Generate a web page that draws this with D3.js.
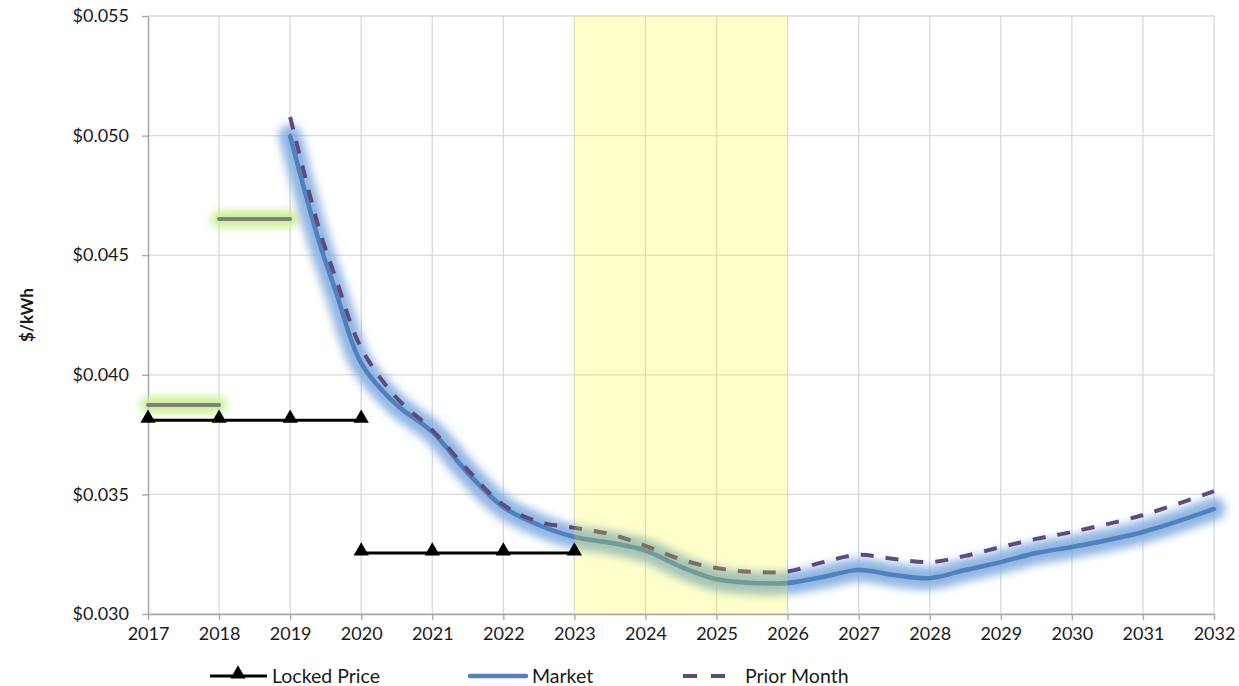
<!DOCTYPE html>
<html>
<head>
<meta charset="utf-8">
<script src="https://cdn.jsdelivr.net/npm/d3@7"></script>
<style>
  body { margin: 0; background: #fff; }
  text { font-family: Lato, "Open Sans", sans-serif; }
</style>
</head>
<body>
<script>
// data
const years = d3.range(2017, 2033);
const yTicks = [0.030, 0.035, 0.040, 0.045, 0.050, 0.055];

const lockedA = [[2017, 0.0381], [2018, 0.0381], [2019, 0.0381], [2020, 0.0381]];
const lockedB = [[2020, 0.03255], [2021, 0.03255], [2022, 0.03255], [2023, 0.03255]];

const grayA = [[2017, 0.03874], [2018, 0.03874]];
const grayB = [[2018, 0.04651], [2019, 0.04651]];

const marketX = [2019, 2019.4, 2019.65, 2020, 2020.5, 2021, 2021.5, 2022, 2022.5, 2023, 2023.5, 2024, 2024.5, 2025, 2025.5, 2026, 2026.5, 2027, 2027.5, 2028, 2028.5, 2029, 2029.5, 2030, 2031, 2032];
const marketY = [0.04998, 0.04564, 0.04342, 0.04049, 0.03874, 0.03761, 0.0359, 0.03447, 0.03372, 0.03322, 0.03298, 0.03265, 0.03197, 0.03145, 0.0313, 0.0313, 0.03155, 0.03184, 0.03163, 0.0315, 0.03184, 0.03217, 0.03255, 0.0328, 0.03343, 0.03439];

const priorX = [2019, 2019.4, 2019.65, 2020, 2020.5, 2021, 2021.5, 2022, 2022.5, 2023, 2023.5, 2024, 2024.5, 2025, 2025.5, 2026, 2026.5, 2027, 2027.5, 2028, 2028.5, 2029, 2029.5, 2030, 2031, 2032];
const priorY = [0.05078, 0.04618, 0.04396, 0.04112, 0.03903, 0.03769, 0.03602, 0.03456, 0.03385, 0.0336, 0.03334, 0.03285, 0.03228, 0.03192, 0.03176, 0.03178, 0.03217, 0.03247, 0.0323, 0.03217, 0.03243, 0.0328, 0.03314, 0.03343, 0.03414, 0.03514];

const band = [2023, 2026];

const w = 1239;
const h = 686;
const mLeft = 148, mRight = 1214, mTop = 16, mBottom = 614;

const svg = d3.select("body").append("svg").attr("width", w).attr("height", h);

const defs = svg.append("defs");
defs.append("filter").attr("id", "glow").attr("filterUnits", "userSpaceOnUse")
  .attr("x", 0).attr("y", 0).attr("width", w).attr("height", h)
  .append("feGaussianBlur").attr("stdDeviation", 4.5);

const xScale = d3.scaleLinear().domain([2017, 2032]).range([mLeft, mRight]);
const yScale = d3.scaleLinear().domain([0.030, 0.055]).range([mBottom, mTop]);

// grid
svg.append("g").selectAll("line").data(yTicks).enter().append("line")
  .attr("x1", mLeft).attr("x2", mRight)
  .attr("y1", (d) => yScale(d)).attr("y2", (d) => yScale(d))
  .attr("stroke", "#d9d9d9").attr("stroke-width", 1.3);
svg.append("g").selectAll("line").data(years.slice(1)).enter().append("line")
  .attr("x1", (d) => xScale(d)).attr("x2", (d) => xScale(d))
  .attr("y1", mTop).attr("y2", mBottom)
  .attr("stroke", "#d9d9d9").attr("stroke-width", 1.3);

// axes
const xAxis = d3.axisBottom(xScale).tickValues(years).tickFormat(d3.format("d")).tickSize(6).tickSizeOuter(0);
const gx = svg.append("g").attr("transform", "translate(0," + mBottom + ")").call(xAxis);
const yAxis = d3.axisLeft(yScale).tickValues(yTicks).tickFormat((d) => "$" + d3.format(".3f")(d)).tickSize(6).tickSizeOuter(0);
const gy = svg.append("g").attr("transform", "translate(" + mLeft + ",0)").call(yAxis);
[gx, gy].forEach((g) => {
  g.select(".domain").attr("stroke", "#a6a6a6").attr("stroke-width", 1.5);
  g.selectAll(".tick line").attr("stroke", "#a6a6a6").attr("stroke-width", 1.3);
  g.selectAll("text").attr("fill", "#1a1a1a").style("font-size", "18px").style("font-family", "Lato, sans-serif");
});
gx.selectAll("text").attr("dy", "0.95em");
gy.selectAll("text").attr("x", -19);

svg.append("text")
  .attr("transform", "translate(33," + (mTop + mBottom) / 2 + ") rotate(-90)")
  .attr("text-anchor", "middle").attr("font-weight", "bold").attr("font-size", 17).attr("fill", "#1a1a1a")
  .text("$/kWh");

const line = d3.line().x((d) => xScale(d[0])).y((d) => yScale(d[1]));
const smooth = d3.line().x((d) => xScale(d[0])).y((d) => yScale(d[1])).curve(d3.curveCatmullRom.alpha(0.5));

// gray highlight segments
[grayA, grayB].forEach((seg) => {
  svg.append("path").attr("d", line(seg)).attr("fill", "none")
    .attr("stroke", "#c9f08c").attr("stroke-width", 16).attr("stroke-linecap", "round")
    .attr("filter", "url(#glow)");
  svg.append("path").attr("d", line(seg)).attr("fill", "none")
    .attr("stroke", "#7f7f7f").attr("stroke-width", 4).attr("stroke-linecap", "round");
});

// market
const market = marketX.map((x, i) => [x, marketY[i]]);
const prior = priorX.map((x, i) => [x, priorY[i]]);

svg.append("path").attr("d", smooth(market)).attr("fill", "none")
  .attr("stroke", "#84ade0").attr("stroke-width", 23).attr("stroke-linecap", "round")
  .attr("filter", "url(#glow)").attr("opacity", 0.9);
svg.append("path").attr("d", smooth(market)).attr("fill", "none")
  .attr("stroke", "#4f81bd").attr("stroke-width", 4.5).attr("stroke-linecap", "round");

// prior month
svg.append("path").attr("d", smooth(prior)).attr("fill", "none")
  .attr("stroke", "#5f4a7b").attr("stroke-width", 4).attr("stroke-dasharray", "13,12");

// yellow band, semi-transparent over the lines
svg.append("rect")
  .attr("x", xScale(band[0])).attr("width", xScale(band[1]) - xScale(band[0]))
  .attr("y", mTop).attr("height", mBottom - mTop)
  .attr("fill", "#ffff00").attr("opacity", 0.2);

// locked price
const tri = d3.symbol().type(d3.symbolTriangle).size(100);
[lockedA, lockedB].forEach((seg) => {
  svg.append("path").attr("d", line(seg)).attr("fill", "none")
    .attr("stroke", "#000").attr("stroke-width", 3);
  svg.append("g").selectAll("path").data(seg).enter().append("path")
    .attr("d", tri).attr("fill", "#000")
    .attr("transform", (d) => "translate(" + xScale(d[0]) + "," + (yScale(d[1]) - 2) + ")");
});

// legend
const ly = 676;
const lg = svg.append("g").attr("font-size", 19.5).attr("fill", "#1a1a1a");
lg.append("line").attr("x1", 210).attr("x2", 267).attr("y1", ly).attr("y2", ly).attr("stroke", "#000").attr("stroke-width", 3);
lg.append("path").attr("d", tri).attr("fill", "#000").attr("transform", "translate(238," + (ly - 2) + ")");
lg.append("text").attr("x", 272).attr("y", ly + 7).text("Locked Price");
lg.append("line").attr("x1", 470).attr("x2", 526).attr("y1", ly).attr("y2", ly).attr("stroke", "#4f81bd").attr("stroke-width", 4.5).attr("stroke-linecap", "round");
lg.append("text").attr("x", 532).attr("y", ly + 7).text("Market");
lg.append("line").attr("x1", 683).attr("x2", 725).attr("y1", ly).attr("y2", ly).attr("stroke", "#5f4a7b").attr("stroke-width", 4).attr("stroke-dasharray", "14,14");
lg.append("text").attr("x", 745).attr("y", ly + 7).text("Prior Month");
</script>
</body>
</html>
